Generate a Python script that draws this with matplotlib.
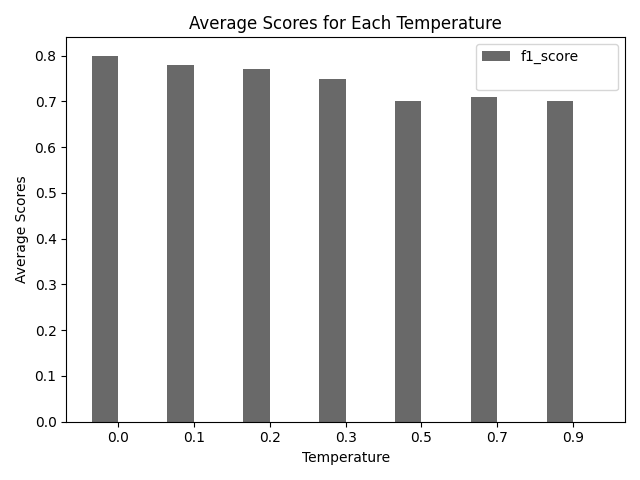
import matplotlib
matplotlib.use('Agg')
import matplotlib.pyplot as plt
import numpy as np

temperatures = ['0.0', '0.1', '0.2', '0.3', '0.5', '0.7', '0.9']
f1_score = [0.80, 0.78, 0.77, 0.75, 0.70, 0.71, 0.70]
other_score = [0, 0, 0, 0, 0, 0, 0]

x = np.arange(len(temperatures))
width = 0.35

fig, ax = plt.subplots(figsize=(6.4, 4.8), dpi=100)
ax.bar(x - width / 2, f1_score, width, label='f1_score', color='dimgray')
ax.bar(x + width / 2, other_score, width, label=' ' * 21, color='white')

ax.set_xticks(x)
ax.set_xticklabels(temperatures)
ax.set_xlabel('Temperature')
ax.set_ylabel('Average Scores')
ax.set_title('Average Scores for Each Temperature')
ax.legend()

fig.tight_layout()
fig.savefig('out.png')
